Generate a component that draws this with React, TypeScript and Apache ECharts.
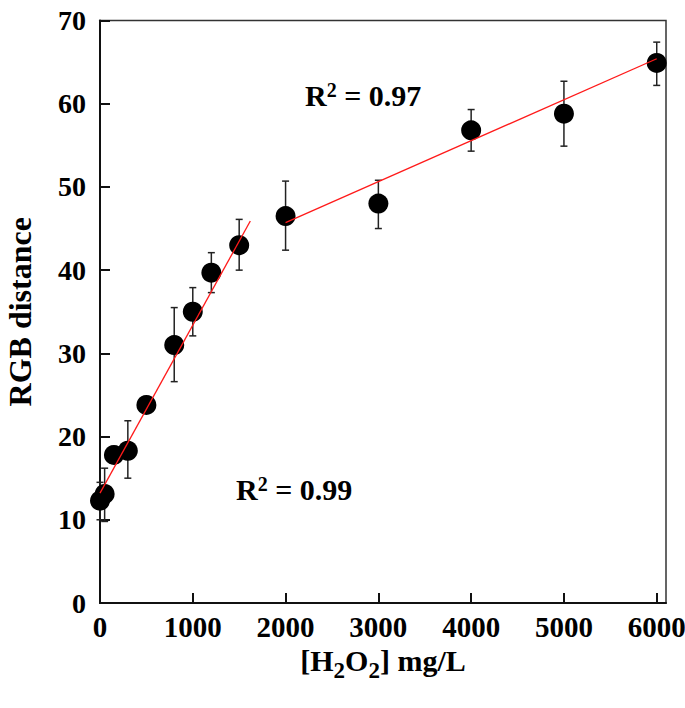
import React, { useEffect, useRef } from "react";
import * as echarts from "echarts";

// concentration of H2O2 (mg/L)
const concentrations = [0, 50, 150, 300, 500, 800, 1000, 1200, 1500, 2000, 3000, 4000, 5000, 6000];
// mean RGB distance
const rgbDistance = [12.3, 13.1, 17.8, 18.3, 23.8, 31.0, 35.0, 39.7, 43.0, 46.5, 48.0, 56.8, 58.8, 64.9];
// error bar ends
const errorLow = [10.0, 9.8, 16.8, 15.0, 22.8, 26.6, 32.1, 37.3, 40.0, 42.4, 45.0, 54.3, 54.9, 62.2];
const errorHigh = [14.5, 16.2, 18.8, 21.9, 24.8, 35.5, 37.9, 42.1, 46.1, 50.7, 50.8, 59.3, 62.7, 67.4];

// linear fits
const fitLowX = [0, 1620];
const fitLowY = [13.2, 45.9];
const fitHighX = [2000, 6000];
const fitHighY = [45.7, 65.4];

const xTicks = [0, 1000, 2000, 3000, 4000, 5000, 6000];
const yTicks = [0, 10, 20, 30, 40, 50, 60, 70];

const annotations = ["0.97", "0.99"];

const FONT = "'Liberation Serif', 'Times New Roman', serif";

export default function App() {
  const ref = useRef<HTMLDivElement>(null);

  useEffect(() => {
    if (!ref.current) return;
    const chart = echarts.init(ref.current, undefined, { renderer: "svg" });

    const scatterData = concentrations.map((x, i) => [x, rgbDistance[i]]);
    const errData = concentrations.map((x, i) => [x, errorLow[i], errorHigh[i]]);

    const r2Rich = {
      r: { fontSize: 30, fontWeight: "bold", fontFamily: FONT, color: "#000", lineHeight: 36, verticalAlign: "top" },
      sup: { fontSize: 20, fontWeight: "bold", fontFamily: FONT, color: "#000", lineHeight: 20, verticalAlign: "top" },
    };

    chart.setOption({
      animation: false,
      backgroundColor: "#fff",
      grid: {
        left: 100,
        top: 20.5,
        right: 19,
        bottom: 105,
        containLabel: false,
        outerBoundsMode: "none",
        show: true,
        borderColor: "#333",
        borderWidth: 1.5,
      },
      xAxis: {
        type: "value",
        min: 0,
        max: 6100,
        interval: 1000,
        splitLine: { show: false },
        axisLine: { show: true, lineStyle: { color: "#111", width: 2 } },
        axisTick: { show: true, inside: true, length: 10, customValues: xTicks, lineStyle: { color: "#111", width: 2 } },
        axisLabel: {
          customValues: xTicks,
          formatter: (v: number) => String(v),
          margin: 9,
          fontSize: 29,
          fontWeight: "bold",
          fontFamily: FONT,
          color: "#000",
        },
        name: "{t|[H}{sub|2}{t|O}{sub|2}{t|] mg/L}",
        nameLocation: "middle",
        nameGap: 37,
        nameTextStyle: {
          rich: {
            t: { fontSize: 30, fontWeight: "bold", fontFamily: FONT, color: "#000", lineHeight: 30, verticalAlign: "top" },
            sub: { fontSize: 23, fontWeight: "bold", fontFamily: FONT, color: "#000", lineHeight: 22, verticalAlign: "top", padding: [13, 0, 0, 0] },
          },
        },
      },
      yAxis: {
        type: "value",
        min: 0,
        max: 70,
        interval: 10,
        splitLine: { show: false },
        axisLine: { show: true, lineStyle: { color: "#111", width: 2 } },
        axisTick: { show: true, inside: true, length: 10, lineStyle: { color: "#111", width: 2 } },
        axisLabel: {
          formatter: (v: number) => String(v),
          margin: 14,
          fontSize: 28,
          fontWeight: "bold",
          fontFamily: FONT,
          color: "#000",
          padding: [0, 0, 8, 0],
        },
        name: "RGB distance",
        nameLocation: "middle",
        nameRotate: 90,
        nameGap: 64,
        nameTextStyle: { fontSize: 32, fontWeight: "bold", fontFamily: FONT, color: "#000" },
      },
      graphic: [
        {
          type: "text",
          left: 305,
          top: 80,
          style: { text: `{r|R}{sup|2}{r| = ${annotations[0]}}`, rich: r2Rich },
        },
        {
          type: "text",
          left: 236,
          top: 474,
          style: { text: `{r|R}{sup|2}{r| = ${annotations[1]}}`, rich: r2Rich },
        },
      ],
      series: [
        {
          type: "custom",
          z: 1,
          data: errData,
          renderItem: (params: any, api: any) => {
            const x = api.value(0);
            const lo = api.coord([x, api.value(1)]);
            const hi = api.coord([x, api.value(2)]);
            const w = 3.5;
            const st = { stroke: "#222", lineWidth: 1.5 };
            return {
              type: "group",
              children: [
                { type: "line", shape: { x1: lo[0], y1: lo[1], x2: hi[0], y2: hi[1] }, style: st },
                { type: "line", shape: { x1: lo[0] - w, y1: lo[1], x2: lo[0] + w, y2: lo[1] }, style: st },
                { type: "line", shape: { x1: hi[0] - w, y1: hi[1], x2: hi[0] + w, y2: hi[1] }, style: st },
              ],
            };
          },
        },
        {
          type: "scatter",
          z: 2,
          data: scatterData,
          symbol: "circle",
          symbolSize: 20,
          itemStyle: { color: "#000", opacity: 1 },
        },
        {
          type: "line",
          z: 3,
          data: fitLowX.map((x, i) => [x, fitLowY[i]]),
          showSymbol: false,
          symbol: "none",
          lineStyle: { color: "#ff1a1a", width: 1.3 },
        },
        {
          type: "line",
          z: 3,
          data: fitHighX.map((x, i) => [x, fitHighY[i]]),
          showSymbol: false,
          symbol: "none",
          lineStyle: { color: "#ff1a1a", width: 1.3 },
        },
      ],
    });

    return () => chart.dispose();
  }, []);

  return (
    <div
      ref={ref}
      style={{ position: "absolute", left: 0, top: 0, width: 685, height: 708 }}
    />
  );
}
